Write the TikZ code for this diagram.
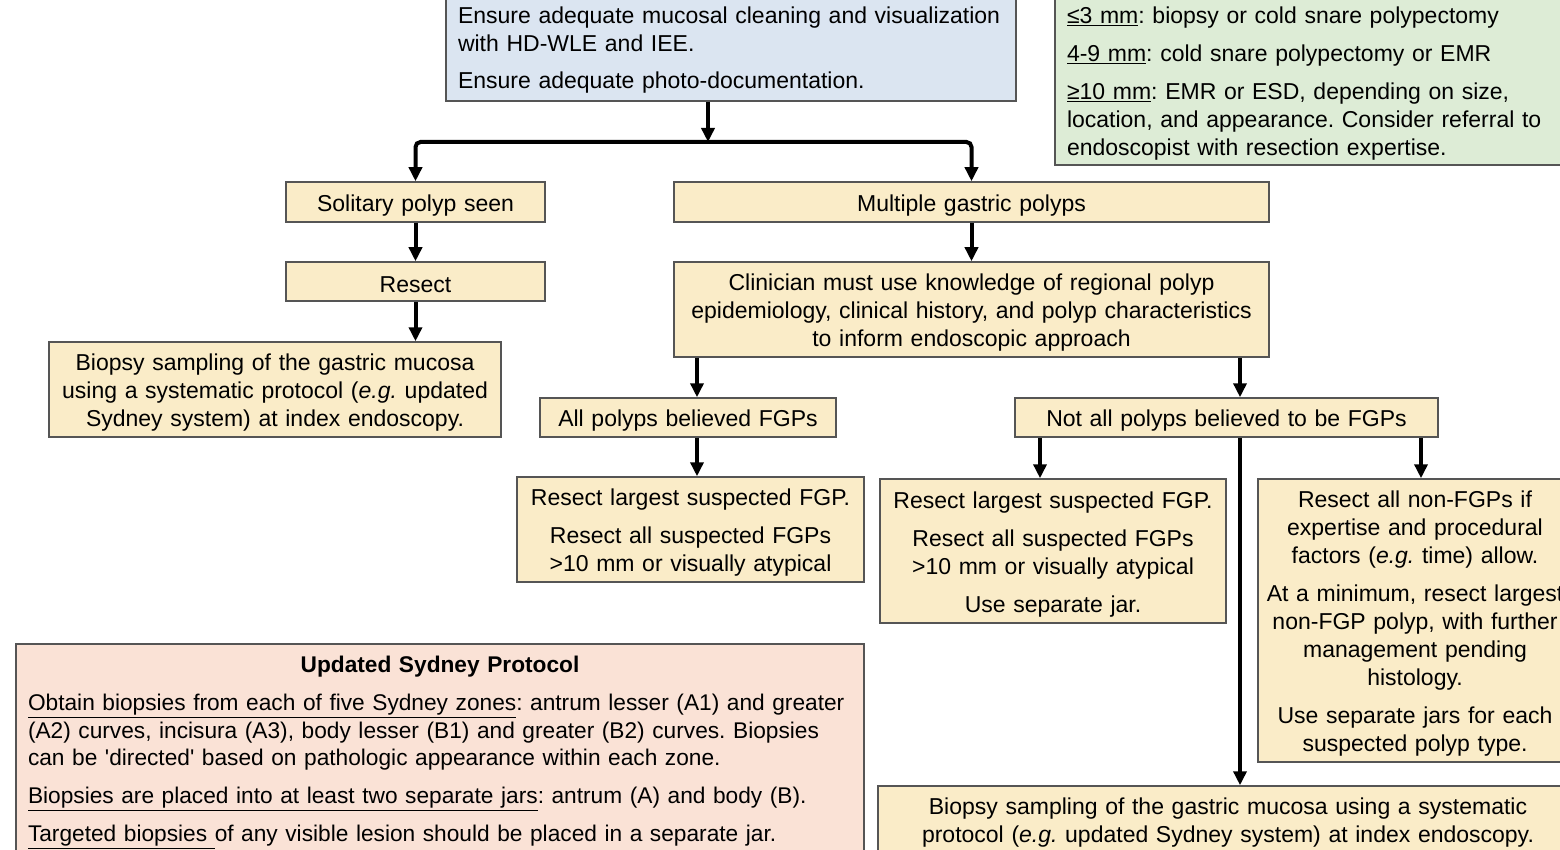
\documentclass[tikz,border=0pt]{standalone}
\usepackage{fontspec}
\setmainfont{Liberation Sans}
\usetikzlibrary{arrows.meta}
\definecolor{tanfill}{RGB}{250,236,200}
\definecolor{bluefill}{RGB}{219,229,241}
\definecolor{greenfill}{RGB}{221,236,214}
\definecolor{pinkfill}{RGB}{250,226,214}
\definecolor{edge}{RGB}{85,85,85}
\newcommand{\eg}{(\textit{e.g.}}
\tikzset{
  box/.style={draw=edge, line width=1.5pt, fill=tanfill, align=center, inner sep=0pt,
    font=\fontsize{23}{28}\selectfont\frenchspacing,
    execute at begin node={\rule{0pt}{23pt}}},
  leftbox/.style={box, align=left},
  arr/.style={line width=4pt, -{Triangle[length=14pt,width=13pt]}},
  bar/.style={line width=4pt, rounded corners=5pt, -{Triangle[length=14pt,width=13pt]}}
}
\begin{document}
\begin{tikzpicture}[x=1pt,y=-1pt]
\useasboundingbox (0,0) rectangle (1560,850);
\clip (0,0) rectangle (1560,850);
\fill[white] (0,0) rectangle (1560,850);

% top boxes
\node[leftbox, fill=bluefill, minimum width=570, minimum height=108, text width=546] (top) at (731,47)
 {Ensure adequate mucosal cleaning and visualization\\ with HD-WLE and IEE.\\[9pt] Ensure adequate photo-documentation.};
\node[leftbox, fill=greenfill, minimum width=520, minimum height=170, text width=496] (green) at (1315,80)
 {\underline{≤3 mm}: biopsy or cold snare polypectomy\\[10pt]
  \underline{4-9 mm}: cold snare polypectomy or EMR\\[10pt]
  \underline{≥10 mm}: EMR or ESD, depending on size,\\
  location, and appearance. Consider referral to\\
  endoscopist with resection expertise.};

% flow boxes
\node[box, minimum width=259, minimum height=40, text width=247] (solitary) at (415.5,202) {Solitary polyp seen};
\node[box, minimum width=595, minimum height=40, text width=583] (multiple) at (971.5,202) {Multiple gastric polyps};
\node[box, minimum width=259, minimum height=39, text width=247] (resect) at (415.5,281.5) {Resect};
\node[box, minimum width=452, minimum height=95, text width=440] (biopsyL) at (275,389.5)
 {Biopsy sampling of the gastric mucosa\\ using a systematic protocol \eg{} updated\\ Sydney system) at index endoscopy.};
\node[box, minimum width=595, minimum height=95, text width=583] (clin) at (971.5,309.5)
 {Clinician must use knowledge of regional polyp\\ epidemiology, clinical history, and polyp characteristics\\ to inform endoscopic approach};
\node[box, minimum width=296, minimum height=39, text width=284] (allfgp) at (688,417.5) {All polyps believed FGPs};
\node[box, minimum width=423, minimum height=39, text width=411] (notall) at (1226.5,417.5) {Not all polyps believed to be FGPs};
\node[box, minimum width=347, minimum height=105, text width=335] (resectL) at (690.5,529.5)
 {Resect largest suspected FGP.\\[10pt] Resect all suspected FGPs\\ >10 mm or visually atypical};
\node[box, minimum width=346, minimum height=144, text width=334] (resectM) at (1053,551)
 {Resect largest suspected FGP.\\[10pt] Resect all suspected FGPs\\ >10 mm or visually atypical\\[10pt] Use separate jar.};
\node[box, minimum width=314, minimum height=283, text width=310] (nonfgp) at (1415,620.5)
 {Resect all non-FGPs if\\ expertise and procedural\\ factors \eg{} time) allow.\\[10pt]
  At a minimum, resect largest\\ non-FGP polyp, with further\\ management pending\\ histology.\\[10pt]
  Use separate jars for each\\ suspected polyp type.};
\node[box, minimum width=700, minimum height=67, text width=688] (biopsyB) at (1228,819.5)
 {Biopsy sampling of the gastric mucosa using a systematic\\ protocol \eg{} updated Sydney system) at index endoscopy.};
\node[leftbox, fill=pinkfill, minimum width=848, minimum height=210, text width=824,
      font=\fontsize{22.7}{27.5}\selectfont\frenchspacing] (sydney) at (440,749)
 {\makebox[\linewidth][c]{\bfseries Updated Sydney Protocol}\\[10.5pt]
  \mbox{\underline{Obtain biopsies from each of five Sydney zones}: antrum lesser (A1) and greater}\\
  \mbox{(A2) curves, incisura (A3), body lesser (B1) and greater (B2) curves. Biopsies}\\
  can be \textquotesingle directed\textquotesingle{} based on pathologic appearance within each zone.\\[10.5pt]
  \underline{Biopsies are placed into at least two separate jars}: antrum (A) and body (B).\\[10.5pt]
  \underline{Targeted biopsies\ }of any visible lesion should be placed in a separate jar.};

% connectors
\coordinate (bar) at (708,142);
\coordinate (xa) at (697,0);
\coordinate (xb) at (1240,0);
\coordinate (xc) at (1040,0);
\coordinate (xd) at (1421,0);
\draw[arr] (top.south -| bar) -- (bar);
\draw[bar] (bar) -| (solitary.north);
\draw[bar] (bar) -| (multiple.north);
\draw[arr] (solitary) -- (resect);
\draw[arr] (resect.south) -- (biopsyL.north -| resect.south);
\draw[arr] (multiple) -- (clin);
\draw[arr] (clin.south -| xa) -- (allfgp.north -| xa);
\draw[arr] (clin.south -| xb) -- (notall.north -| xb);
\draw[arr] (allfgp.south -| xa) -- (resectL.north -| xa);
\draw[arr] (notall.south -| xc) -- (resectM.north -| xc);
\draw[arr] (notall.south -| xb) -- (biopsyB.north -| xb);
\draw[arr] (notall.south -| xd) -- (nonfgp.north -| xd);
\end{tikzpicture}
\end{document}
